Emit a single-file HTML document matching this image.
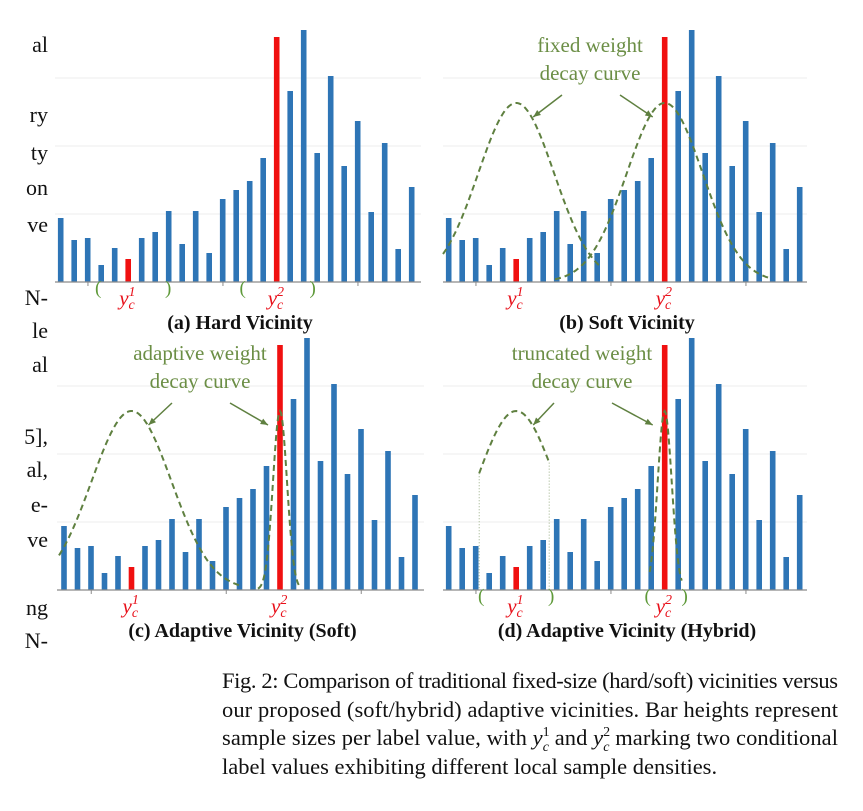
<!DOCTYPE html>
<html><head><meta charset="utf-8"><style>
body{margin:0;background:#fff;width:863px;height:811px;overflow:hidden}
svg{display:block}
text{font-family:"Liberation Serif","DejaVu Serif",serif}
.side{font-size:22px;fill:#111}
.cap{font-size:22.5px;fill:#111}
.ttl{font-size:20px;font-weight:bold;fill:#111}
.ann{font-size:21px;fill:#6b8e45}
.yl{font-size:21px;font-style:italic;fill:#e8101a}
.yls{font-size:14px}
</style></head><body>
<svg id="fig" width="863" height="811" viewBox="0 0 863 811" font-family="Liberation Serif, serif">
<g text-anchor="end">
<text class="side" x="48" y="52">al</text><text class="side" x="48" y="122">ry</text>
<text class="side" x="48" y="160">ty</text><text class="side" x="48" y="195">on</text>
<text class="side" x="48" y="232">ve</text><text class="side" x="48" y="305">N-</text>
<text class="side" x="48" y="338">le</text><text class="side" x="48" y="372">al</text>
<text class="side" x="48" y="444">5],</text><text class="side" x="48" y="477">al,</text>
<text class="side" x="48" y="512">e-</text><text class="side" x="48" y="547">ve</text>
<text class="side" x="48" y="615">ng</text><text class="side" x="48" y="648">N-</text>
</g>
<g id="panels"></g>
<g>
<text class="cap" x="222" y="688" textLength="616" lengthAdjust="spacing">Fig. 2: Comparison of traditional fixed-size (hard/soft) vicinities versus</text>
<text class="cap" x="222" y="717" textLength="616" lengthAdjust="spacing">our proposed (soft/hybrid) adaptive vicinities. Bar heights represent</text>
<text class="cap" x="222" y="745" textLength="616" lengthAdjust="spacing">sample sizes per label value, with <tspan font-style="italic">y</tspan><tspan font-size="14" dy="-9">1</tspan><tspan font-size="14" dx="-7" dy="15" font-style="italic">c</tspan><tspan dy="-6"> and </tspan><tspan font-style="italic">y</tspan><tspan font-size="14" dy="-9">2</tspan><tspan font-size="14" dx="-7" dy="15" font-style="italic">c</tspan><tspan dy="-6"> marking two conditional</tspan></text>
<text class="cap" x="222" y="774">label values exhibiting different local sample densities.</text>
</g>
</svg>
<script>
const categories=[1,2,3,4,5,6,7,8,9,10,11,12,13,14,15,16,17,18,19,20,21,22,23,24,25,26,27];
const sampleSizes=[64,42,44,17,34,23,44,50,71,38,71,29,83,92,101,124,245,191,252,129,206,116,161,70,139,33,95];
const highlighted=[5,16];
const gridTicks=[68,136,204];
const titles=["(a) Hard Vicinity","(b) Soft Vicinity","(c) Adaptive Vicinity (Soft)","(d) Adaptive Vicinity (Hybrid)"];
const annotations=[null,["fixed weight","decay curve"],["adaptive weight","decay curve"],["truncated weight","decay curve"]];
const NS="http://www.w3.org/2000/svg";
const root=document.getElementById('panels');
function mk(tag,attrs,parent){const e=document.createElementNS(NS,tag);for(const k in attrs)e.setAttribute(k,attrs[k]);(parent||root).appendChild(e);return e;}
const panels=[{x0:60.7,base:282,ax0:55,ax1:421},{x0:448.7,base:282,ax0:443,ax1:807},{x0:64,base:590,ax0:57,ax1:424},{x0:448.7,base:590,ax0:443,ax1:807}];
const step=13.5;
const green="#5f8040";
const SERIF="Liberation Serif, serif";
panels.forEach((p,pi)=>{
  const g=mk('g',{});
  
  
  const xS=i=>p.x0+i*step, yS=v=>p.base-v;
  gridTicks.forEach(t=>{const l=mk('line',{x1:p.ax0,x2:p.ax1,y1:yS(t),y2:yS(t),stroke:'#eeeeee','stroke-width':1},g);
    });
  sampleSizes.forEach((v,i)=>{
    const r=mk('rect',{x:xS(i)-2.8,y:yS(v),width:5.6,height:v,fill:highlighted.includes(i)?'#f01010':'#2e75b6'},g);
    
    
  });
  const ax=mk('line',{x1:p.ax0,x2:p.ax1,y1:p.base,y2:p.base,stroke:'#8a8a8a','stroke-width':1.3},g);
  
  [2.5,12.5,22.5].forEach(i=>mk('line',{x1:xS(i)-6.5,x2:xS(i)-6.5,y1:p.base,y2:p.base+4,stroke:'#8a8a8a'},g));
  highlighted.forEach((i,k)=>{
    const t=mk('text',{x:xS(i)-9,y:p.base+23,class:'yl','font-family':SERIF},g);
    t.innerHTML='y<tspan class="yls" dy="-9">'+(k+1)+'</tspan><tspan class="yls" dx="-7" dy="13">c</tspan>';
    
  });
  const cx=(p.ax0+p.ax1)/2+2;
  const tt=mk('text',{x:cx,y:p.base+47,class:'ttl','text-anchor':'middle','font-family':SERIF},g);tt.textContent=titles[pi];
  
  function gauss(c,s,h,lo,hi){let d='';for(let x=lo;x<=hi;x+=1){const y=p.base-h*Math.exp(-((x-c)**2)/(2*s*s));d+=(d?'L':'M')+x.toFixed(1)+','+y.toFixed(1);}
    const pa=mk('path',{d:d,fill:'none',stroke:green,'stroke-width':2,'stroke-dasharray':'6,4'},g);
    return pa;}
  function bracket(x,open){const t=mk('text',{x:x,y:p.base+12,'text-anchor':'middle',fill:'#5f9a3a','font-family':SERIF,'font-size':19},g);t.textContent=open?'(':')';}
  const c1=xS(5),c2=xS(16);
  if(pi===0){bracket(c1-30,1);bracket(c1+40,0);bracket(c2-34,1);bracket(c2+36,0);}
  if(pi===1){gauss(c1,38,179,443,600);gauss(c2,38,179,555,770);}
  if(pi===2){gauss(c1,40,179,59,240);gauss(c2,7,179,258,300);}
  if(pi===3){gauss(c1,40,179,c1-37,c1+33);
    const h1=179*Math.exp(-(37*37)/(3200)),h2=179*Math.exp(-(33*33)/3200);
    mk('line',{x1:c1-37,x2:c1-37,y1:p.base-h1,y2:p.base,stroke:'#9aae86','stroke-width':1,'stroke-dasharray':'1,2'},g);
    mk('line',{x1:c1+33,x2:c1+33,y1:p.base-h2,y2:p.base,stroke:'#9aae86','stroke-width':1,'stroke-dasharray':'1,2'},g);
    gauss(c2,7,179,c2-15,c2+17);
    bracket(c1-35,1);bracket(c1+35,0);bracket(c2-17,1);bracket(c2+20,0);}
  if(annotations[pi]){
    const acx=pi===1?590:(pi===2?200:582), ay=p.base-230;
    annotations[pi].forEach((s,k)=>{const t=mk('text',{x:acx,y:ay+k*28,class:'ann','text-anchor':'middle','font-family':SERIF},g);t.textContent=s;
      });
    const aTop=p.base-187, aBot=p.base-165;
    [[acx-28,c1+17],[acx+30,c2-12]].forEach(([sx,ex])=>{
      mk('line',{x1:sx,y1:aTop,x2:ex,y2:aBot,stroke:green,'stroke-width':1.5},g);
      const ang=Math.atan2(aBot-aTop,ex-sx),L=8;
      const pts=[[ex,aBot],[ex-L*Math.cos(ang-0.4),aBot-L*Math.sin(ang-0.4)],[ex-L*Math.cos(ang+0.4),aBot-L*Math.sin(ang+0.4)]];
      mk('polygon',{points:pts.map(q=>q.join(',')).join(' '),fill:green},g);
    });
  }
});
</script>
</body></html>
